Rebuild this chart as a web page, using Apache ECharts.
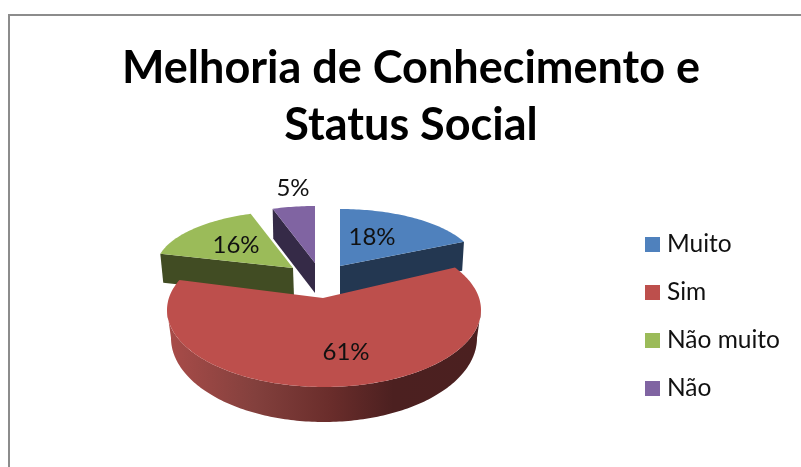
<!DOCTYPE html>
<html><head><meta charset="utf-8">
<style>html,body{margin:0;padding:0;background:#fff}#c{width:801px;height:467px}</style>
<script src="https://cdn.jsdelivr.net/npm/echarts@6/dist/echarts.min.js"></script>
</head><body><div id="c"></div>
<script>
const titleLines = ['Melhoria de Conhecimento e', 'Status Social'];
const categories = ['Muito', 'Sim', 'Não muito', 'Não'];
const values = [18, 61, 16, 5];
const topColors = ['#4f81bd', '#bd4f4c', '#9bbb59', '#8064a2'];
const wallColors = ['#233751', '#bd4f4c', '#414c23', '#352a47'];
// Projection of each exploded slice: apex, top ellipse, bottom ellipse, label anchor
const views = [
  {ax:340,ay:266,cx:340,cy:266,rx:137,ry:57,bax:340,bay:295,bcx:340,bcy:295,brx:135,bry:57,lx:372,ly:237,z:30},
  {ax:323,ay:298,cx:324,cy:310,rx:157,ry:77,bax:323,bay:333,bcx:324,bcy:338,brx:153,bry:84,lx:346,ly:352,z:40},
  {ax:293,ay:268,cx:293,cy:268,rx:137,ry:57,bax:294,bay:297,bcx:294,bcy:297,brx:135,bry:57,lx:236,ly:245,z:20},
  {ax:315,ay:263,cx:315,cy:263,rx:137,ry:57,bax:315,bay:293,bcx:315,bcy:293,brx:135,bry:57,lx:293,ly:188,z:10}
];
const total = values.reduce((s, v) => s + v, 0);
const TAU = Math.PI * 2;

function rayParam(px, py, cx, cy, rx, ry, a) {
  const ux = (px - cx) / rx, uy = (py - cy) / ry;
  const vx = Math.sin(a), vy = -Math.cos(a);
  const b = ux * vx + uy * vy;
  const s = -b + Math.sqrt(b * b - (ux * ux + uy * uy) + 1);
  return Math.atan2(ux + s * vx, -(uy + s * vy));
}
function pt(cx, cy, rx, ry, t) { return [cx + rx * Math.sin(t), cy - ry * Math.cos(t)]; }
function arc(cx, cy, rx, ry, t0, t1) {
  const n = Math.max(2, Math.ceil(Math.abs(t1 - t0) / 0.02)), out = [];
  for (let i = 0; i <= n; i++) out.push(pt(cx, cy, rx, ry, t0 + (t1 - t0) * i / n));
  return out;
}

function renderSlice(idx) {
  return function (params, api) {
    const before = values.slice(0, idx).reduce((s, v) => s + v, 0);
    const a0 = before / total * TAU, a1 = (before + values[idx]) / total * TAU;
    const v = views[idx];
    let t0 = rayParam(v.ax, v.ay, v.cx, v.cy, v.rx, v.ry, a0);
    let t1 = rayParam(v.ax, v.ay, v.cx, v.cy, v.rx, v.ry, a1);
    if (t1 <= t0) t1 += TAU;
    let b0 = rayParam(v.bax, v.bay, v.bcx, v.bcy, v.brx, v.bry, a0);
    let b1 = rayParam(v.bax, v.bay, v.bcx, v.bcy, v.brx, v.bry, a1);
    if (b1 <= b0) b1 += TAU;
    const kids = [];
    const poly = (points, fill, z2) => kids.push({type:'polygon', shape:{points}, style:{fill, stroke:null}, z2, silent:true});
    const wall = wallColors[idx];
    // radial walls that face the viewer
    if (Math.sin(a1) > 1e-6) poly([[v.ax,v.ay], pt(v.cx,v.cy,v.rx,v.ry,t1), pt(v.bcx,v.bcy,v.brx,v.bry,b1), [v.bax,v.bay]], wall, v.z);
    if (Math.sin(a0) < -1e-6) poly([[v.ax,v.ay], pt(v.cx,v.cy,v.rx,v.ry,t0), pt(v.bcx,v.bcy,v.brx,v.bry,b0), [v.bax,v.bay]], wall, v.z);
    // outer rim
    const s = Math.max(t0, Math.PI / 2), e = Math.min(t1, Math.PI * 1.5);
    if (e > s) {
      const rim = arc(v.cx,v.cy,v.rx,v.ry,s,e).concat(arc(v.bcx,v.bcy,v.brx,v.bry,e,s));
      const grad = new echarts.graphic.LinearGradient(0, 0, 1, 0, [
        {offset:0, color:'#a94c49'}, {offset:0.28, color:'#83403d'},
        {offset:0.52, color:'#6a2d2b'}, {offset:0.72, color:'#4c2020'}, {offset:1, color:'#4b2020'}
      ]);
      poly(rim, grad, v.z);
    }
    // top face
    poly([[v.ax,v.ay]].concat(arc(v.cx,v.cy,v.rx,v.ry,t0,t1)), topColors[idx], v.z + 1);
    kids.push({type:'text', z2:60, silent:true, style:{
      text: Math.round(values[idx] / total * 100) + '%', x:v.lx, y:v.ly,
      font:'24px Lato', fill:'#111', align:'center', verticalAlign:'middle'}});
    return {type:'group', children:kids};
  };
}

const chart = echarts.init(document.getElementById('c'), null, {renderer:'canvas'});
chart.setOption({
  animation:false,
  backgroundColor:'#fff',
  title:{
    text:titleLines.join('\n'), left:406, top:35, textAlign:'center',
    textStyle:{fontFamily:'Lato', fontWeight:'bold', fontSize:45, lineHeight:57, color:'#000'}
  },
  legend:{
    orient:'vertical', left:640, top:227, itemWidth:15, itemHeight:15, itemGap:23,
    icon:'rect', data:categories, selectedMode:false,
    textStyle:{fontFamily:'Lato', fontSize:24.5, color:'#111', padding:[0,0,0,2], lineHeight:23}
  },
  graphic:[{type:'polyline', shape:{points:[[9,467],[9,15],[801,15]]}, style:{stroke:'#8c8c8c', lineWidth:2, fill:null}, silent:true}],
  series: categories.map((name, i) => ({
    type:'custom', name, coordinateSystem:'none', silent:true, clip:false,
    itemStyle:{color:topColors[i]}, data:[values[i]], renderItem:renderSlice(i)
  }))
});
</script></body></html>
